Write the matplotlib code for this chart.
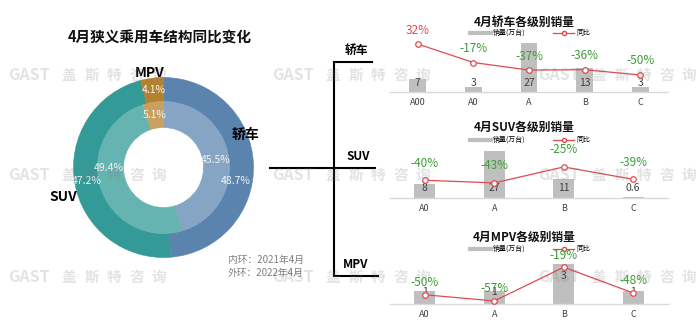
import numpy as np
import matplotlib as mpl
mpl.use('Agg')
import matplotlib.pyplot as plt
from matplotlib.lines import Line2D

plt.rcParams['font.family'] = ['Noto Sans CJK SC', 'DejaVu Sans']

W, H = 700, 332

# market share by body type (inner ring 2021-04, outer ring 2022-04)
seg_names = ['轿车', 'SUV', 'MPV']
share_2021 = [45.5, 49.4, 5.1]
share_2022 = [48.7, 47.2, 4.1]

# sales by level (10k units) and year-on-year change (%)
sedan_levels = ['A00', 'A0', 'A', 'B', 'C']
sedan_sales = [7, 3, 27, 13, 3]
sedan_yoy = [32, -17, -37, -36, -50]

suv_levels = ['A0', 'A', 'B', 'C']
suv_sales = [8, 27, 11, 0.6]
suv_yoy = [-40, -43, -25, -39]

mpv_levels = ['A0', 'A', 'B', 'C']
mpv_sales = [1, 1, 3, 1]
mpv_yoy = [-50, -57, -19, -48]

outer_colors = ['#5A84AD', '#339A97', '#B4822F']
inner_colors = ['#86A4C4', '#65B4B1', '#C7A062']
BAR_GRAY = '#BFBFBF'
LINE_RED = '#DE4B4F'
GREEN = '#3A9E35'


def fx(x):
    return x / W


def fy(y):
    return 1 - y / H


fig = plt.figure(figsize=(W / 100, H / 100), dpi=100)
fig.patch.set_facecolor('white')

# ---- donut ----
cx, cy, R = 163.5, 167.5, 90
half = 100
pax = fig.add_axes([fx(cx - half), fy(cy + half), 2 * half / W, 2 * half / H])
pax.patch.set_visible(False)
out_w, in_r, in_w = 24 / R, 66 / R, 26 / R
out_wedges, _, out_txt = pax.pie(share_2022, radius=1, startangle=90, counterclock=False,
                                 colors=outer_colors, autopct='%.1f%%', pctdistance=1 - out_w / 2,
                                 wedgeprops=dict(width=out_w, linewidth=0.4),
                                 textprops=dict(color='#F4F4F4', fontsize=7.5))
in_wedges, _, in_txt = pax.pie(share_2021, radius=in_r, startangle=90, counterclock=False,
                               colors=inner_colors, autopct='%.1f%%', pctdistance=(in_r - in_w / 2) / in_r,
                               wedgeprops=dict(width=in_w, linewidth=0.4),
                               textprops=dict(color='#F4F4F4', fontsize=7.5))
for w in list(out_wedges) + list(in_wedges):
    w.set_edgecolor(w.get_facecolor())
# keep crowded labels apart
x0, y0 = out_txt[0].get_position()
out_txt[0].set_position((x0 - 0.06, y0 - 0.19))
x0, y0 = in_txt[1].get_position()
in_txt[1].set_position((x0 - 0.04, y0 + 0.17))
lim = half / R
pax.set_xlim(-lim, lim)
pax.set_ylim(-lim, lim)
pax.set_aspect('equal')

pax.text((245 - cx) / R, (cy - 135) / R, seg_names[0], fontsize=10, fontweight='bold', ha='center', va='center')
pax.text((63 - cx) / R, (cy - 197) / R, seg_names[1], fontsize=10, fontweight='bold', ha='center', va='center')
pax.text((150 - cx) / R, (cy - 73) / R, seg_names[2], fontsize=10, fontweight='bold', ha='center', va='center')

fig.text(fx(160), fy(38), '4月狭义乘用车结构同比变化', fontsize=10.5, fontweight='bold',
         ha='center', va='center', color='#111111')
fig.text(fx(228), fy(260), '内环：2021年4月', fontsize=7, color='#7F7F7F', ha='left', va='center')
fig.text(fx(228), fy(273), '外环：2022年4月', fontsize=7, color='#7F7F7F', ha='left', va='center')

# ---- bracket ----
for xs, ys in [((270, 375), (168, 168)), ((334, 334), (62, 276)),
               ((334, 372), (62, 62)), ((334, 378), (276, 276))]:
    fig.add_artist(Line2D([fx(x) for x in xs], [fy(y) for y in ys],
                          transform=fig.transFigure, color='black', lw=1.5))
fig.text(fx(356), fy(50), seg_names[0], fontsize=8.5, fontweight='bold', ha='center', va='center')
fig.text(fx(358), fy(156), seg_names[1], fontsize=8.5, fontweight='bold', ha='center', va='center')
fig.text(fx(356), fy(265), seg_names[2], fontsize=8.5, fontweight='bold', ha='center', va='center')


def level_chart(top, base, levels, sales, yoy, title, title_y, legend_y,
                bar_lim, pct_lim, pct_off, lab_lo, lab_drop):
    left, right = 390, 668
    ax = fig.add_axes([fx(left), fy(base), (right - left) / W, (base - top) / H])
    ax.patch.set_visible(False)
    x = np.arange(len(levels))
    ax.bar(x, sales, width=0.3, color=BAR_GRAY, zorder=1)
    ax.set_xlim(-0.5, len(levels) - 0.5)
    ax.set_ylim(*bar_lim)
    ax.set_xticks(x)
    ax.set_xticklabels(levels, fontsize=6.5, color='#404040')
    ax.tick_params(axis='x', length=0, pad=4)
    ax.set_yticks([])
    for s in ('top', 'left', 'right'):
        ax.spines[s].set_visible(False)
    ax.spines['bottom'].set_color('#D9D9D9')
    ax.spines['bottom'].set_linewidth(1)

    # sales value labels
    for xi, v in zip(x, sales):
        h_px = ax.transData.transform((0, v))[1] - ax.transData.transform((0, 0))[1]
        off = max(lab_lo, h_px - lab_drop)
        ax.annotate(f'{v:g}', xy=(xi, 0), xytext=(0, off), textcoords='offset pixels',
                    ha='center', va='center', fontsize=7.5, color='#404040', zorder=2)

    ax2 = ax.twinx()
    ax2.plot(x, yoy, color=LINE_RED, lw=0.9, marker='o', ms=4, mfc='white', mec=LINE_RED,
             mew=0.9, zorder=3)
    ax2.set_ylim(*pct_lim)
    ax2.set_yticks([])
    for s in ax2.spines.values():
        s.set_visible(False)
    for xi, p in zip(x, yoy):
        ax2.annotate(f'{p:d}%', xy=(xi, p), xytext=(0, pct_off), textcoords='offset pixels',
                     ha='center', va='center', fontsize=8.5,
                     color=LINE_RED if p > 0 else GREEN, annotation_clip=False)

    fig.text(fx(524), fy(title_y), title, fontsize=8.5, fontweight='bold', ha='center', va='center',
             color='#111111')
    handles = [Line2D([], [], color=BAR_GRAY, lw=3),
               Line2D([], [], color=LINE_RED, lw=0.9, marker='o', ms=3, mfc='white', mec=LINE_RED)]
    ax.legend(handles, ['销量(万台)', '同比'], loc='center', ncol=2, frameon=False, fontsize=5,
              bbox_to_anchor=(fx(530), fy(legend_y)), bbox_transform=fig.transFigure,
              handlelength=3, handletextpad=0.3, columnspacing=4)
    return ax


level_chart(40, 92, sedan_levels, sedan_sales, sedan_yoy, '4月轿车各级别销量', 22, 33,
            (0, 28.7), (-95, 42.6), 14, 9, 1000)
level_chart(145, 198, suv_levels, suv_sales, suv_yoy, '4月SUV各级别销量', 127, 140,
            (0, 30.4), (-60, -0.3), 17, 10, 1000)
level_chart(255, 304, mpv_levels, mpv_sales, mpv_yoy, '4月MPV各级别销量', 237, 249,
            (0, 3.68), (-60.4, -5.3), 12, 12, 12)

# translucent watermark grid laid over everything
wm_chars = ['盖', '斯', '特', '咨', '询']
wm_kw = dict(fontweight='bold', color='#808080', alpha=0.22, va='center', zorder=10)
for wy in (75, 175, 277):
    for wx in (8, 272, 538):
        fig.text(fx(wx), fy(wy), 'GAST', fontsize=11.5, ha='left', **wm_kw)
        for i, ch in enumerate(wm_chars):
            fig.text(fx(wx + 61 + 22.5 * i), fy(wy), ch, fontsize=10.5, ha='center', **wm_kw)

fig.savefig('out.png', dpi=100)
